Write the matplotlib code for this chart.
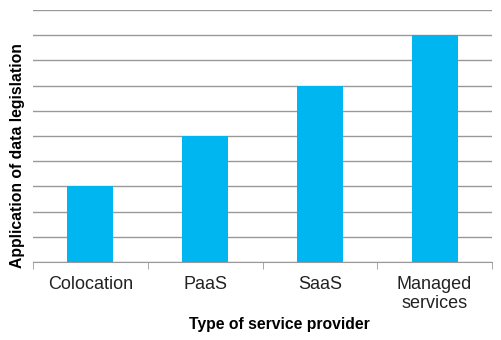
import matplotlib.pyplot as plt
import numpy as np

plt.rcParams['font.family'] = ['Liberation Sans', 'DejaVu Sans']

# provider types and how strongly data legislation applies
providers = ['Colocation', 'PaaS', 'SaaS', 'Managed\nservices']
legislation = [3, 5, 7, 9]
y_max = 10

bar_color = '#00B6F0'
grid_color = '#999999'

W, H = 501, 340
fig = plt.figure(figsize=(W / 100, H / 100), dpi=100)
ax = fig.add_axes([33 / W, 1 - 262 / H, 459 / W, 252 / H])

x = np.arange(len(providers))
ax.bar(x, legislation, width=0.40, color=bar_color, zorder=3)

ax.set_xlim(-0.5, len(providers) - 0.5)
ax.set_ylim(0, y_max)
ax.set_yticks(np.arange(0, y_max + 1, 1))
ax.set_yticklabels([])
ax.tick_params(axis='y', length=0)
ax.yaxis.grid(True, color=grid_color, linewidth=1.0, zorder=0)

# category labels centred, tick marks on category boundaries
ax.set_xticks(x)
ax.set_xticklabels(providers, fontsize=13, color='#222222', linespacing=1.2)
ax.tick_params(axis='x', length=0, pad=10)
ax.set_xticks(np.arange(-0.5, len(providers)), minor=True)
ax.tick_params(axis='x', which='minor', length=5, color=grid_color, direction='out')

for side in ['top', 'right', 'left']:
    ax.spines[side].set_visible(False)
ax.spines['bottom'].set_color(grid_color)

# axis titles placed in figure coordinates
fig.text(279 / W, 1 - 325 / H, 'Type of service provider', fontsize=11.3,
         fontweight='bold', ha='center', va='center')
fig.text(18 / W, 1 - 156 / H, 'Application of data legislation', fontsize=11.3,
         fontweight='bold', ha='center', va='center', rotation=90)

fig.savefig('out.png', dpi=100)
